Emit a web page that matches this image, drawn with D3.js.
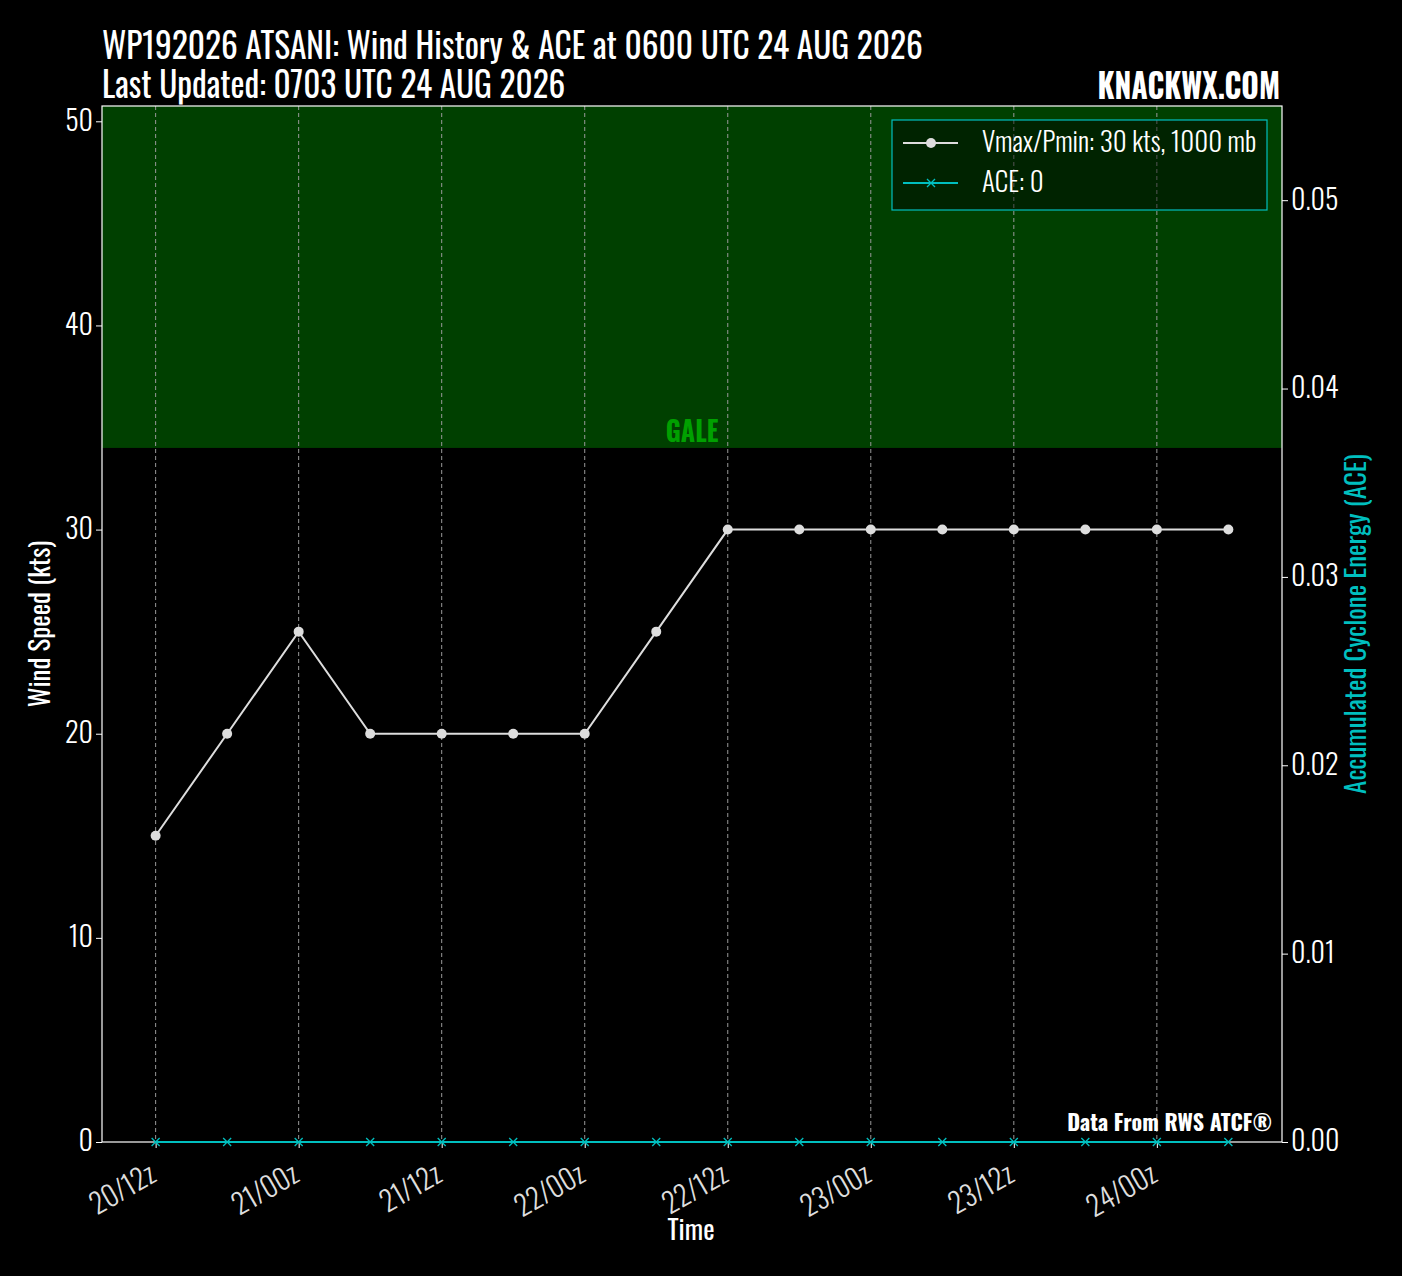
<!DOCTYPE html>
<html><head><meta charset="utf-8">
<script src="https://cdn.jsdelivr.net/npm/d3@7"></script>
<style>
html,body{margin:0;padding:0;background:#000;}
svg{display:block;}
text{font-family:Oswald,'Liberation Sans Narrow','DejaVu Sans Condensed',sans-serif;}
</style></head><body>
<svg id="c" width="1402" height="1276"></svg>
<script>
const times = ["2026-08-20T12","2026-08-20T18","2026-08-21T00","2026-08-21T06","2026-08-21T12","2026-08-21T18","2026-08-22T00","2026-08-22T06","2026-08-22T12","2026-08-22T18","2026-08-23T00","2026-08-23T06","2026-08-23T12","2026-08-23T18","2026-08-24T00","2026-08-24T06"];
const windKts = [15,20,25,20,20,20,20,25,30,30,30,30,30,30,30,30];
const aceVals = [0,0,0,0,0,0,0,0,0,0,0,0,0,0,0,0];
const windTicks = [0,10,20,30,40,50];
const aceTicks = [0,0.01,0.02,0.03,0.04,0.05];
const xTickTimes = ["2026-08-20T12","2026-08-21T00","2026-08-21T12","2026-08-22T00","2026-08-22T12","2026-08-23T00","2026-08-23T12","2026-08-24T00"];
const galeKts = 34;
const titleLine1 = "WP192026 ATSANI: Wind History & ACE at 0600 UTC 24 AUG 2026";
const titleLine2 = "Last Updated: 0703 UTC 24 AUG 2026";

const parse = d3.utcParse("%Y-%m-%dT%H");
const T = times.map(parse);
const XT = xTickTimes.map(parse);
const svg = d3.select("#c");
const L=102, R=1282, TOP=106, BOT=1142;
const pad = 4.5*3600*1000;
const x = d3.scaleUtc().domain([+T[0]-pad, +T[T.length-1]+pad]).range([L,R]);
const y = d3.scaleLinear().domain([0,50.75]).range([BOT,TOP]);
const y2 = d3.scaleLinear().domain([0,0.055]).range([BOT,TOP]);
const cyan = "#00bfbf";

// gale band
svg.append("rect").attr("x",L).attr("y",y(50.75)).attr("width",R-L).attr("height",y(galeKts)-y(50.75)).attr("fill","#004000");
svg.append("text").attr("x",(L+R)/2).attr("y",y(galeKts)-6).attr("text-anchor","middle")
  .attr("fill","#00a000").attr("font-weight","bold").attr("font-size",26)
  .attr("transform",`translate(0,${y(galeKts)-6}) scale(1,1.08) translate(0,${-(y(galeKts)-6)})`).text("GALE");

// grid
svg.append("g").selectAll("line").data(XT).join("line")
  .attr("x1",d=>x(d)).attr("x2",d=>x(d)).attr("y1",TOP).attr("y2",BOT)
  .attr("stroke","#999").attr("stroke-width",1).attr("stroke-dasharray","4,3");

// axes
const fmt = d3.utcFormat("%d/%Hz");
const gx = svg.append("g").attr("transform",`translate(0,${BOT})`)
  .call(d3.axisBottom(x).tickValues(XT).tickFormat(fmt).tickSize(6).tickSizeOuter(0));
const gy = svg.append("g").attr("transform",`translate(${L},0)`)
  .call(d3.axisLeft(y).tickValues(windTicks).tickSize(6).tickSizeOuter(0));
const gy2 = svg.append("g").attr("transform",`translate(${R},0)`)
  .call(d3.axisRight(y2).tickValues(aceTicks).tickFormat(d3.format(".2f")).tickSize(6).tickSizeOuter(0));
[gx,gy,gy2].forEach(g=>{
  g.select(".domain").remove();
  g.selectAll("line").attr("stroke","#fff");
  g.selectAll("text").attr("fill","#fff").attr("font-size",28).attr("font-weight",300).attr("font-family","Oswald,'Liberation Sans Narrow',sans-serif");
});
gx.selectAll("text").attr("fill","#ddd").attr("x",0).attr("y",20).attr("dy",null)
  .attr("text-anchor","end").attr("transform","translate(-8,21) rotate(-30)");
// frame
svg.append("rect").attr("x",L).attr("y",TOP).attr("width",R-L).attr("height",BOT-TOP).attr("fill","none").attr("stroke","#fff").attr("stroke-width",1.2);

// ACE line
svg.append("path").datum(aceVals).attr("fill","none").attr("stroke",cyan).attr("stroke-width",2)
  .attr("d",d3.line().x((d,i)=>x(T[i])).y(d=>y2(d)));
svg.append("g").selectAll("path").data(aceVals).join("path")
  .attr("transform",(d,i)=>`translate(${x(T[i])},${y2(d)})`)
  .attr("d","M-4,-4L4,4M-4,4L4,-4").attr("stroke",cyan).attr("stroke-width",1.3);

// wind line
svg.append("path").datum(windKts).attr("fill","none").attr("stroke","#ddd").attr("stroke-width",2)
  .attr("d",d3.line().x((d,i)=>x(T[i])).y(d=>y(d)));
svg.append("g").selectAll("circle").data(windKts).join("circle")
  .attr("cx",(d,i)=>x(T[i])).attr("cy",d=>y(d)).attr("r",5).attr("fill","#ddd");

// legend
const lg = svg.append("g");
lg.append("rect").attr("x",892).attr("y",120).attr("width",375).attr("height",90)
  .attr("fill","rgba(0,0,0,0.45)").attr("stroke",cyan).attr("stroke-width",1.2);
const items=[{c:"#ddd",m:"o",t:"Vmax/Pmin: 30 kts, 1000 mb",yy:143},{c:cyan,m:"x",t:"ACE: 0",yy:183}];
items.forEach(it=>{
  lg.append("line").attr("x1",903).attr("x2",958).attr("y1",it.yy).attr("y2",it.yy).attr("stroke",it.c).attr("stroke-width",2);
  if(it.m==="o") lg.append("circle").attr("cx",931).attr("cy",it.yy).attr("r",5).attr("fill",it.c);
  else lg.append("path").attr("transform",`translate(931,${it.yy})`).attr("d","M-4,-4L4,4M-4,4L4,-4").attr("stroke",it.c).attr("stroke-width",1.3);
  lg.append("text").attr("x",982).attr("y",it.yy).attr("dy","0.35em").attr("fill","#fff").attr("font-size",27).attr("font-weight",300).text(it.t);
});

// titles (slight vertical stretch to mimic the tall condensed face)
function tall(sel, bx, by, k){ sel.attr("transform",`translate(${bx},${by}) scale(1,${k})`).attr("x",0).attr("y",0); return sel; }
tall(svg.append("text").attr("fill","#fff").attr("font-size",33.4).text(titleLine1),102,59,1.08);
tall(svg.append("text").attr("fill","#fff").attr("font-size",33.3).text(titleLine2),102,98,1.08);
tall(svg.append("text").attr("text-anchor","end").attr("fill","#fff").attr("font-size",30).attr("font-weight","bold").text("KNACKWX.COM"),1280,99,1.1);
svg.append("text").attr("x",1272).attr("y",1131).attr("text-anchor","end").attr("fill","#fff").attr("font-size",22).attr("font-weight","bold").text("Data From RWS ATCF®");

// axis labels
svg.append("text").attr("x",691).attr("y",1240).attr("text-anchor","middle").attr("fill","#fff").attr("font-size",27).text("Time");
svg.append("text").attr("transform",`translate(50,${(TOP+BOT)/2}) rotate(-90)`).attr("text-anchor","middle").attr("fill","#fff").attr("font-size",27).text("Wind Speed (kts)");
svg.append("text").attr("transform",`translate(1366,${(TOP+BOT)/2}) rotate(-90)`).attr("text-anchor","middle").attr("fill",cyan).attr("font-size",27).text("Accumulated Cyclone Energy (ACE)");
</script></body></html>
